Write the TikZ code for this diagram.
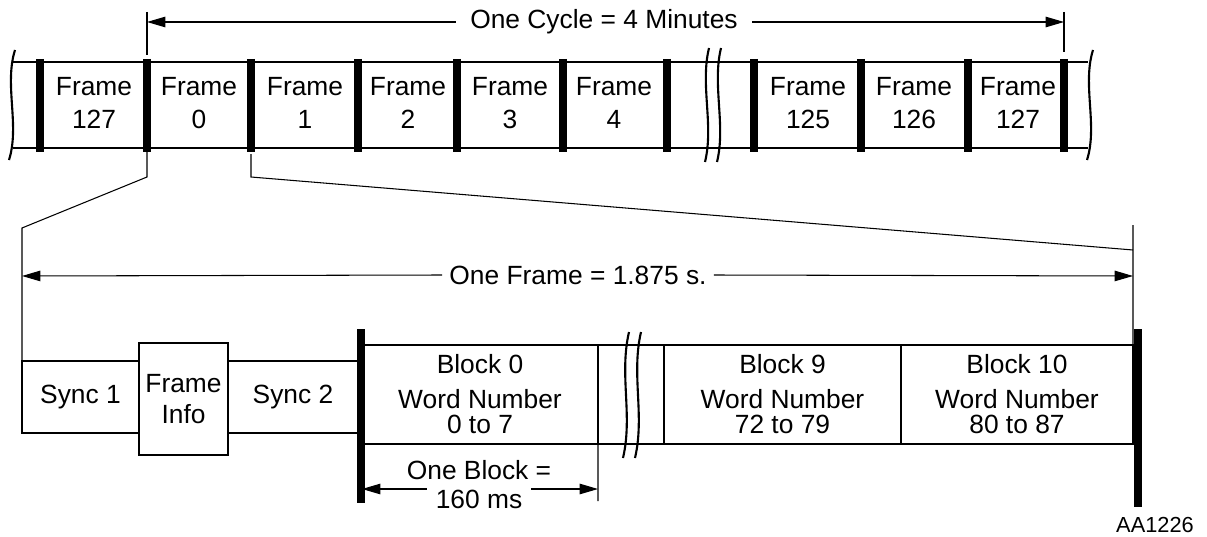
\documentclass[tikz,border=0pt]{standalone}
\usepackage{fontspec}
\setmainfont{Liberation Sans}
\usetikzlibrary{arrows.meta}

\begin{document}
\begin{tikzpicture}[x=0.02cm, y=-0.02cm,
    txt/.style={font=\fontsize{15}{18.7}\selectfont, align=center,
        inner sep=0pt},
    box/.style={draw, line width=1.1pt, outer sep=0pt, inner sep=0pt,
        align=center, font=\fontsize{15}{18}\selectfont},
    blockbox/.style={box, font=\fontsize{15}{14.3}\selectfont},
    thinline/.style={line width=0.6pt},
    stripline/.style={line width=1.2pt},
    framebar/.style={line width=4pt},
    tri/.style={-{Triangle[length=10.5pt, width=6pt]}}]
    \useasboundingbox (0, 0) rectangle (1207, 537);

    \draw[stripline] (13, 62) -- (1088, 62);
    \draw[stripline] (13, 148) -- (1088, 148);
    \foreach \x in {40, 147, 251, 358, 457, 563, 667, 754, 861, 968, 1064}
        \draw[framebar] (\x, 59) -- (\x, 152);
    \draw[stripline] (15, 50) .. controls (4, 85) and (20, 125) .. (9, 160);
    \draw[stripline] (1093, 50) .. controls (1082, 85) and (1098, 125)
        .. (1087, 160);
    \foreach \d in {0, 12}
        \draw[stripline] (709+\d, 48) .. controls (700+\d, 85)
            and (714+\d, 125) .. (705+\d, 162);

    \node[txt] (fa) at (94, 103) {Frame\\127};
    \node[txt] (f0) at (199, 103) {Frame\\0};
    \node[txt] (f1) at (305, 103) {Frame\\1};
    \node[txt] (f2) at (408, 103) {Frame\\2};
    \node[txt] (f3) at (510, 103) {Frame\\3};
    \node[txt] (f4) at (614, 103) {Frame\\4};
    \node[txt] (f125) at (808, 103) {Frame\\125};
    \node[txt] (f126) at (914, 103) {Frame\\126};
    \node[txt] (fb) at (1018, 103) {Frame\\127};

    \node[txt, inner xsep=8pt] (cycle) at (604, 22) {One Cycle = 4 Minutes};
    \coordinate (cycL) at (147, 22);
    \coordinate (cycR) at (1064, 22);
    \draw[thinline] (147, 12) -- (147, 55);
    \draw[thinline] (1064, 12) -- (1064, 52);
    \draw[thinline, tri] (cycle.west) -- (cycL);
    \draw[thinline, tri] (cycle.east) -- (cycR);

    \node[box, minimum width=2.34cm, minimum height=1.44cm]
        (sync1) at (80.5, 397) {Sync 1};
    \node[box, minimum width=1.78cm, minimum height=2.24cm]
        (finfo) at (183.5, 399) {Frame\\Info};
    \node[box, minimum width=2.6cm, minimum height=1.44cm]
        (sync2) at (293, 397) {Sync 2};

    \node[blockbox, minimum width=4.72cm, minimum height=1.98cm]
        (b0) at (480, 394.5) {Block 0\\[5.5pt]Word Number\\0 to 7};
    \node[blockbox, minimum width=4.74cm, minimum height=1.98cm]
        (b9) at (782.5, 394.5) {Block 9\\[5.5pt]Word Number\\72 to 79};
    \node[blockbox, minimum width=4.64cm, minimum height=1.98cm]
        (b10) at (1017, 394.5) {Block 10\\[5.5pt]Word Number\\80 to 87};
    \draw[box] (b0.north east) -- (b9.north west);
    \draw[box] (b0.south east) -- (b9.south west);
    \foreach \d in {0, 12}
        \draw[stripline] (629+\d, 332) .. controls (619+\d, 375)
            and (633+\d, 415) .. (623+\d, 458);
    \draw[framebar] (361, 329) -- (361, 503);
    \draw[framebar] (1138, 329) -- (1138, 507);

    \draw[thinline] (147, 152) -- (147, 177) -- (22, 228) -- (sync1.north west);
    \draw[thinline] (251, 154) -- (251, 177) -- (1133, 250);
    \draw[thinline] (1133, 225) -- (b10.north east);

    \node[txt, inner xsep=4pt] (frame) at (578, 275) {One Frame = 1.875 s.};
    \coordinate (frL) at (22, 276);
    \coordinate (frR) at (1133, 276);
    \draw[thinline, tri] (frame.west) -- (frL);
    \draw[thinline, tri] (frame.east) -- (frR);

    \node[txt] (oneblk) at (479, 470) {One Block =};
    \node[txt, inner xsep=5pt] (blkms) at (479, 499) {160 ms};
    \coordinate (blkL) at (362, 489);
    \coordinate (blkR) at (598, 489);
    \draw[thinline] (b0.south east) -- (598, 501);
    \draw[thinline, tri] (blkms.west |- blkL) -- (blkL);
    \draw[thinline, tri] (blkms.east |- blkR) -- (blkR);

    \node[font=\fontsize{12.4}{12}\selectfont, inner sep=0pt]
        (aa) at (1155, 525) {AA1226};
\end{tikzpicture}
\end{document}
